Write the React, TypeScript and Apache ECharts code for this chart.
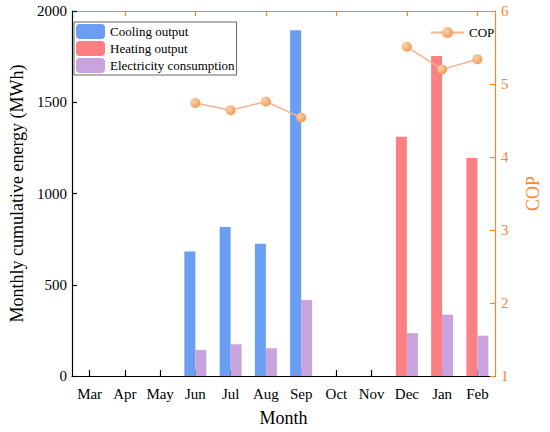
import React, { useEffect, useRef } from "react";
import * as echarts from "echarts";

const months = ["Mar", "Apr", "May", "Jun", "Jul", "Aug", "Sep", "Oct", "Nov", "Dec", "Jan", "Feb"];
const cooling: (number | string)[] = ["-", "-", "-", 682, 817, 724, 1894, "-", "-", "-", "-", "-"];
const heating: (number | string)[] = ["-", "-", "-", "-", "-", "-", "-", "-", "-", 1311, 1754, 1194];
const electricity: (number | string)[] = ["-", "-", "-", 143, 174, 152, 416, "-", "-", 235, 336, 221];
const cop: (number | string)[] = ["-", "-", "-", 4.74, 4.64, 4.76, 4.54, "-", "-", 5.51, 5.2, 5.34];

const FONT = "Liberation Serif";
const ORANGE = "#F7882F";

export default function App() {
  const ref = useRef<HTMLDivElement>(null);
  useEffect(() => {
    document.body.style.margin = "0";
    if (!ref.current) return;
    const chart = echarts.init(ref.current, undefined, { renderer: "svg" });
    chart.setOption({
      animation: false,
      textStyle: { fontFamily: FONT },
      grid: { left: 64, right: 42, top: 11, bottom: 50 },
      legend: [
        {
          data: ["Cooling output", "Heating output", "Electricity consumption"],
          orient: "vertical",
          left: 74,
          top: 22,
          itemWidth: 29,
          itemHeight: 15,
          itemGap: 2,
          itemStyle: { borderWidth: 0 },
          padding: [2, 2, 2, 2],
          borderColor: "#666",
          borderWidth: 1,
          textStyle: { fontFamily: FONT, fontSize: 13, color: "#000" },
        },
        {
          data: ["COP"],
          left: 430,
          top: 26,
          padding: 0,
          itemWidth: 33,
          itemHeight: 14,
          textStyle: { fontFamily: FONT, fontSize: 13, color: "#000" },
        },
      ],
      xAxis: [
        {
          type: "category",
          data: months,
          position: "bottom",
          name: "Month",
          nameLocation: "middle",
          nameGap: 33,
          nameTextStyle: { fontFamily: FONT, fontSize: 18, color: "#000" },
          axisLine: { show: true, lineStyle: { color: "#000", width: 1.2 } },
          axisTick: { show: true, inside: true, alignWithLabel: true, length: 6, lineStyle: { color: "#000", width: 1.2 } },
          axisLabel: { fontFamily: FONT, fontSize: 15, color: "#000", margin: 10, interval: 0 },
          splitLine: { show: false },
        },
        {
          type: "category",
          data: months,
          position: "top",
          axisLine: { show: true, lineStyle: { color: ORANGE, width: 1.2 } },
          axisTick: {
            show: true,
            inside: true,
            alignWithLabel: true,
            length: 5,
            interval: (i: number) => i % 2 === 1,
            lineStyle: { color: ORANGE, width: 1.2 },
          },
          axisLabel: { show: false },
          splitLine: { show: false },
        },
      ],
      yAxis: [
        {
          type: "value",
          min: 0,
          max: 2000,
          interval: 500,
          position: "left",
          name: "Monthly cumulative energy (MWh)",
          nameLocation: "middle",
          nameGap: 46,
          nameTextStyle: { fontFamily: FONT, fontSize: 18, color: "#000" },
          axisLine: { show: true, lineStyle: { color: "#000", width: 1.2 } },
          axisTick: { show: true, inside: true, length: 5, lineStyle: { color: "#000", width: 1.2 } },
          axisLabel: { fontFamily: FONT, fontSize: 15, color: "#000", margin: 5, formatter: (v: number) => String(v) },
          splitLine: { show: false },
        },
        {
          type: "value",
          min: 1,
          max: 6,
          interval: 1,
          position: "right",
          name: "COP",
          nameLocation: "middle",
          nameGap: 29,
          nameTextStyle: { fontFamily: FONT, fontSize: 18, color: ORANGE },
          axisLine: { show: true, lineStyle: { color: ORANGE, width: 1.2 } },
          axisTick: { show: true, inside: true, length: 5, lineStyle: { color: ORANGE, width: 1.2 } },
          axisLabel: { fontFamily: FONT, fontSize: 15, color: ORANGE, margin: 6 },
          splitLine: { show: false },
        },
      ],
      series: [
        {
          name: "Cooling output",
          type: "bar",
          stack: "output",
          data: cooling,
          barWidth: 11,
          barGap: "0%",
          itemStyle: { color: "#6A9EF2" },
        },
        {
          name: "Heating output",
          type: "bar",
          stack: "output",
          data: heating,
          barWidth: 11,
          barGap: "0%",
          itemStyle: { color: "#FC7F82" },
        },
        {
          name: "Electricity consumption",
          type: "bar",
          data: electricity,
          barWidth: 11,
          barGap: "0%",
          itemStyle: { color: "#C9A3DE" },
        },
        {
          name: "COP",
          type: "line",
          yAxisIndex: 1,
          data: cop,
          connectNulls: false,
          symbol: "circle",
          symbolSize: 10,
          z: 5,
          lineStyle: { color: "#F9B28A", width: 1.5 },
          itemStyle: {
            color: new echarts.graphic.RadialGradient(0.35, 0.35, 0.7, [
              { offset: 0, color: "#FDD2A8" },
              { offset: 1, color: "#F29A56" },
            ]),
            borderWidth: 0,
          },
        },
      ],
    });
    return () => chart.dispose();
  }, []);
  return <div ref={ref} style={{ width: 550, height: 432 }} />;
}
